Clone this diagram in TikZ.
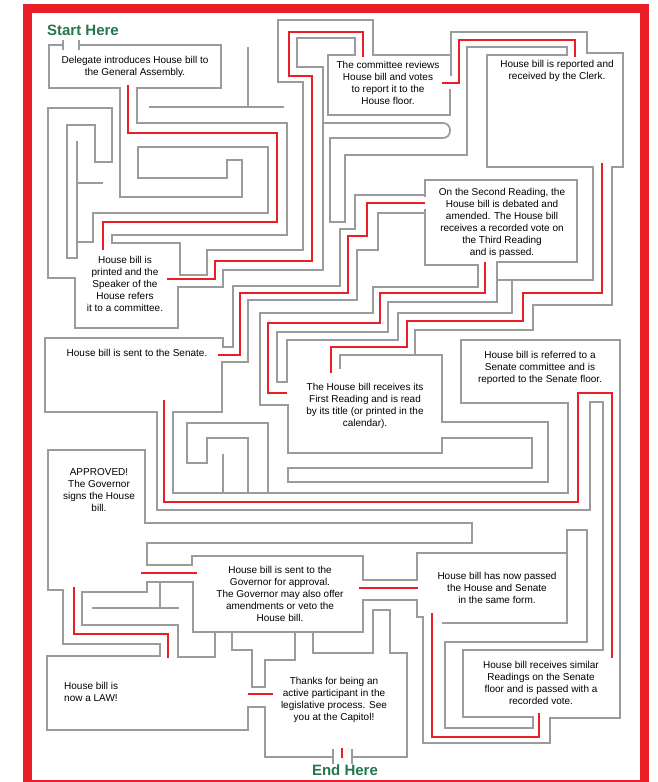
\documentclass[tikz,border=0pt]{standalone}
\usepackage{fontspec}
\setmainfont{Liberation Sans}
\usepackage{xcolor}
\usepackage{tikz}
\definecolor{mazered}{RGB}{234,30,38}
\definecolor{mazegray}{RGB}{155,155,155}
\definecolor{signgreen}{RGB}{38,118,78}
\tikzset{
    wall/.style={
        draw=mazegray,
        line width=1.7pt,
        line cap=rect,
        line join=miter
    },
    route/.style={
        draw=mazered,
        line width=1.8pt
    },
    frame/.style={
        draw=mazered,
        line width=9pt
    },
    stepnote/.style={
        align=center,
        inner sep=0pt,
        font=\fontsize{10}{12}\selectfont
    },
    signpost/.style={
        text=signgreen,
        inner sep=0pt,
        font=\fontsize{15}{16}\selectfont\bfseries
    }
}

\begin{document}
\begin{tikzpicture}[x=1pt, y=-1pt]
\useasboundingbox (0,0) rectangle (658,782);
\fill[white] (0,0) rectangle (658,782);

% Top left walls
\draw[wall] (62,45) -- (49,45) -- (49,88) -- (120,88) -- (120,197) -- (242,197) -- (242,160) -- (227,160) -- (227,178) -- (138,178) -- (138,147) -- (268,147) -- (268,213) -- (93,213) -- (93,242) -- (77,242);
\draw[wall] (80,45) -- (221,45) -- (221,88) -- (137,88) -- (137,123) -- (287,123) -- (287,235) -- (112,235) -- (112,243) -- (180,243) -- (180,275) -- (207,275) -- (207,250) -- (303,250) -- (303,82) -- (278,82) -- (278,20) -- (373,20) -- (373,55) -- (451,55);
\draw[wall] (63,41) -- (63,49);
\draw[wall] (79,41) -- (79,49);
\draw[wall] (248,48) -- (248,107);
\draw[wall] (150,107) -- (283,107);
\draw[wall] (77,142) -- (77,258) -- (67,258) -- (67,125) -- (95,125) -- (95,162) -- (112,162) -- (112,108) -- (48,108) -- (48,278) -- (75,278) -- (75,328) -- (178,328) -- (178,287) -- (223,287) -- (223,270) -- (323,270) -- (323,67) -- (297,67) -- (297,38) -- (355,38) -- (355,55) -- (328,55) -- (328,115) -- (450,115) -- (450,90);
\draw[wall] (77,183) -- (102,183);

% Top right walls
\draw[wall] (451,75) -- (451,32) -- (587,32) -- (587,53) -- (623,53) -- (623,167) -- (612,167) -- (612,305) -- (533,305) -- (533,330) -- (415,330) -- (415,355);
\draw[wall, rounded corners=7pt] (323,123) -- (450,123) -- (450,138) -- (330,138);
\draw[wall] (330,138) -- (330,222) -- (345,222) -- (345,155) -- (467,155) -- (467,47) -- (567,47) -- (567,55) -- (487,55) -- (487,167) -- (593,167) -- (593,280) -- (497,280);

% Middle staircase
\draw[wall] (425,196) -- (425,180) -- (577,180) -- (577,262) -- (497,262) -- (497,302) -- (388,302) -- (388,332) -- (277,332) -- (277,382) -- (287,382) -- (287,340) -- (398,340) -- (398,313) -- (512,313) -- (512,280);
\draw[wall] (425,195) -- (355,195) -- (355,229) -- (340,229) -- (340,286) -- (233,286) -- (233,347) -- (223,347) -- (223,338) -- (45,338) -- (45,412) -- (157,412) -- (157,510) -- (590,510) -- (590,402) -- (603,402) -- (603,650) -- (463,650) -- (463,717) -- (533,717) -- (533,728) -- (445,728) -- (445,642) -- (587,642) -- (587,530) -- (567,530) -- (567,623) -- (443,623);
\draw[wall] (425,210) -- (425,265) -- (478,265) -- (478,287) -- (373,287) -- (373,313) -- (260,313) -- (260,405) -- (288,405) -- (288,453) -- (442,453) -- (442,438) -- (532,438) -- (532,468) -- (288,468) -- (288,482) -- (548,482) -- (548,422) -- (442,422) -- (442,355) -- (340,355) -- (340,368);
\draw[wall] (425,213) -- (378,213) -- (378,250) -- (357,250) -- (357,300) -- (248,300) -- (248,362) -- (222,362) -- (222,412) -- (173,412) -- (173,493) -- (568,493) -- (568,403) -- (461,403) -- (461,340) -- (620,340) -- (620,718) -- (550,718) -- (550,743) -- (423,743) -- (423,617) -- (417,617) -- (417,600) -- (363,600) -- (363,632) -- (193,632) -- (193,582) -- (147,582) -- (147,592) -- (82,592) -- (82,625) -- (178,625) -- (178,657) -- (215,657) -- (215,632);
\draw[wall] (268,493) -- (268,423) -- (187,423) -- (187,463) -- (207,463) -- (207,438) -- (248,438) -- (248,493);
\draw[wall] (223,455) -- (223,493);

% Bottom walls
\draw[wall] (567,553) -- (417,553) -- (417,580) -- (363,580) -- (363,556) -- (192,556) -- (192,565) -- (147,565) -- (147,543) -- (472,543) -- (472,523) -- (145,523) -- (145,450) -- (48,450) -- (48,590) -- (63,590) -- (63,644) -- (160,644) -- (160,656) -- (47,656) -- (47,730) -- (248,730) -- (248,707) -- (265,707) -- (265,757) -- (333,757);
\draw[wall] (93,608) -- (178,608);
\draw[wall] (160,582) -- (160,608);
\draw[wall] (232,632) -- (232,650) -- (252,650) -- (252,687) -- (265,687) -- (265,660) -- (295,660) -- (295,632);
\draw[wall] (313,632) -- (313,653) -- (373,653) -- (373,610) -- (390,610) -- (390,653) -- (407,653) -- (407,757) -- (352,757);
\draw[wall] (333,750) -- (333,763);
\draw[wall] (352,750) -- (352,763);

% Solution route
\draw[route] (128,85) -- (128,133) -- (277,133) -- (277,222) -- (103,222) -- (103,250);
\draw[route] (167,279) -- (215,279) -- (215,261) -- (312,261) -- (312,76) -- (289,76) -- (289,32) -- (363,32) -- (363,57);
\draw[route] (442,83) -- (459,83) -- (459,40) -- (575,40) -- (575,57);
\draw[route] (602,163) -- (602,293) -- (523,293) -- (523,321) -- (407,321) -- (407,347) -- (331,347) -- (331,373);
\draw[route] (425,203) -- (367,203) -- (367,236) -- (348,236) -- (348,293) -- (240,293) -- (240,355) -- (218,355);
\draw[route] (485,262) -- (485,293) -- (380,293) -- (380,323) -- (268,323) -- (268,393) -- (287,393);
\draw[route] (164,400) -- (164,502) -- (578,502) -- (578,393) -- (612,393) -- (612,658);
\draw[route] (141,573) -- (197,573);
\draw[route] (74,587) -- (74,634) -- (168,634) -- (168,658);
\draw[route] (359,588) -- (418,588);
\draw[route] (432,613) -- (432,737) -- (539,737) -- (539,713);
\draw[route] (248,694) -- (273,694);
\draw[route] (342,748) -- (342,758);

% Steps
\node[signpost] (start) at (83,30) {Start Here};
\node[signpost] (finish) at (345,770) {End Here};
\node[stepnote] (delegate) at (135,67) {Delegate introduces House bill to\\the General Assembly.};
\node[stepnote] (committee) at (388,83) {The committee reviews\\House bill and votes\\to report it to the\\House floor.};
\node[stepnote] (clerk) at (557,71) {House bill is reported and\\received by the Clerk.};
\node[stepnote] (printed) at (125,284) {House bill is\\printed and the\\Speaker of the\\House refers\\it to a committee.};
\node[stepnote] (tosenate) at (137,353) {House bill is sent to the Senate.};
\node[stepnote] (second) at (502,223) {On the Second Reading, the\\House bill is debated and\\amended. The House bill\\receives a recorded vote on\\the Third Reading\\and is passed.};
\node[stepnote] (senatecom) at (540,368) {House bill is referred to a\\Senate committee and is\\reported to the Senate floor.};
\node[stepnote] (first) at (365,406) {The House bill receives its\\First Reading and is read\\by its title (or printed in the\\calendar).};
\node[stepnote] (approved) at (99,490) {APPROVED!\\The Governor\\signs the House\\bill.};
\node[stepnote] (governor) at (280,594) {House bill is sent to the\\Governor for approval.\\The Governor may also offer\\amendments or veto the\\House bill.};
\node[stepnote] (passed) at (497,588) {House bill has now passed\\the House and Senate\\in the same form.};
\node[stepnote] (similar) at (541,683) {House bill receives similar\\Readings on the Senate\\floor and is passed with a\\recorded vote.};
\node[stepnote, align=left, anchor=west] (law) at (64,692) {House bill is\\now a LAW!};
\node[stepnote] (thanks) at (334,700) {Thanks for being an\\active participant in the\\legislative process. See\\you at the Capitol!};

% Border
\draw[frame] (27,8.5) -- (644,8.5) -- (644,784) -- (27,784) -- cycle;
\end{tikzpicture}
\end{document}
